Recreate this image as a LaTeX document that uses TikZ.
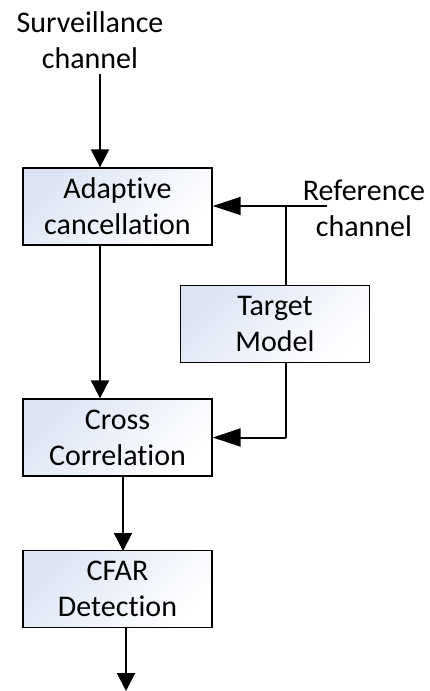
\documentclass[tikz,border=0pt]{standalone}
\usepackage{fontspec}
\setmainfont{Carlito}[RawFeature={-liga}]
\usetikzlibrary{arrows.meta}
\definecolor{boxtop}{RGB}{220,228,244}
\begin{document}
\begin{tikzpicture}[x=1pt,y=-1pt,
  blockbox/.style={draw=black, line width=1.3pt, minimum width=189pt, minimum height=77pt,
    inner sep=0pt, align=center, font=\fontsize{30}{36}\selectfont,
    top color=boxtop, bottom color=white, shading angle=45},
  lbl/.style={align=center, inner sep=0pt, font=\fontsize{30}{36}\selectfont},
  conn/.style={line width=2pt},
  varrow/.style={conn, -{Triangle[width=18pt,length=18pt]}},
  harrow/.style={conn, -{Triangle[width=18pt,length=28pt]}}]
\useasboundingbox (0,0) rectangle (429,691);
\node[lbl] (surv) at (90,40) {Surveillance\\channel};
\node[lbl] (ref) at (364,208) {Reference\\channel};
\node[blockbox] (adapt) at (117.5,206.5) {Adaptive\\cancellation};
\node[blockbox] (target) at (275,324) {Target\\Model};
\node[blockbox] (cross) at (117.5,437.5) {Cross\\Correlation};
\node[blockbox] (cfar) at (117.5,589) {CFAR\\Detection};
\coordinate (survout) at (100,74);
\coordinate (refin) at (327,206);
\coordinate (junc) at (286,206);
\coordinate (corner) at (286,437.5);
\coordinate (out) at (126,691);
\draw[varrow] (survout) -- (survout |- adapt.north);
\draw[harrow] (refin) -- (adapt.east |- refin);
\draw[conn] (junc) -- (junc |- target.north);
\draw[varrow] (adapt.south -| survout) -- (survout |- cross.north);
\draw[conn] (junc |- target.south) -- (corner);
\draw[harrow] (corner) -- (cross.east);
\draw[varrow] (123,476) -- (123,551);
\draw[varrow] (cfar.south -| out) -- (out);
\end{tikzpicture}
\end{document}
